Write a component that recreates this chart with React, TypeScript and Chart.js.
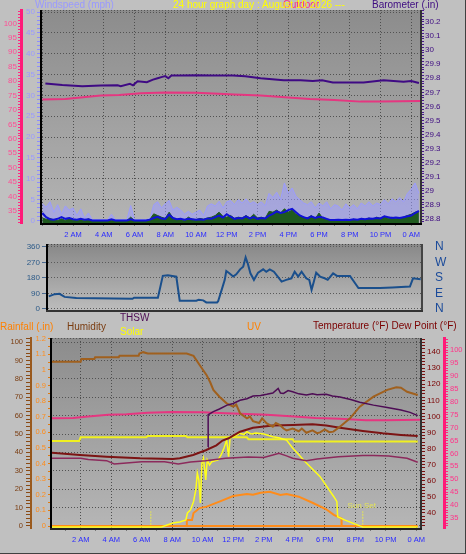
import React, { useEffect, useRef } from 'react';
import { Chart, registerables } from 'chart.js';

Chart.register(...registerables);

const FONT = "'Liberation Sans', Arial, Helvetica, sans-serif";

// ---------------- time axis ----------------
const hourLabels = ['2 AM', '4 AM', '6 AM', '8 AM', '10 AM', '12 PM', '2 PM', '4 PM', '6 PM', '8 PM', '10 PM', '0 AM'];
const labelEvery = 2;

// ---------------- top panel ----------------
const windStepHours = 0.25;
const windGust = [
  4.0, 3.2, 4.5, 2.0, 3.8,
  1.5, 3.5, 2.5, 3.0,
  1.2, 2.8, 0.5, 1.8,
  0.2, 0.2, 0.2, 0.2,
  0.2, 1.5, 0.2, 0.2,
  0.2, 0.2, 3.6, 0.2,
  0.2, 0.2, 0.2, 0.5,
  3.8, 4.5, 3.0, 4.0,
  4.8, 2.5, 3.2, 2.5,
  1.5, 2.2, 1.5, 2.0,
  2.5, 1.2, 3.5, 4.0,
  3.5, 4.6, 3.0, 4.5,
  4.8, 3.8, 5.0, 4.2,
  5.2, 4.0, 4.5, 3.8,
  4.5, 3.5, 6.5, 5.5,
  6.8, 5.0, 9.0, 6.5,
  7.8, 5.8, 5.0, 4.2,
  3.8, 4.5, 3.0, 4.2,
  3.5, 4.5, 2.8, 3.8,
  3.5, 2.5, 4.0, 3.0,
  3.8, 2.8, 4.2, 3.5,
  4.5, 3.5, 4.2, 3.8,
  5.0, 4.0, 5.2, 4.5,
  5.5, 4.5, 6.5, 7.5,
  9.0, 6.5,
];
const windAvg = [
  1.8, 0.8, 0.3, 0.2, 0.4,
  0.8, 0.4, 0.6, 0.3,
  0.2, 0.4, 0.2, 0.3,
  0, 0, 0, 0,
  0, 0.3, 0, 0,
  0, 0, 0.3, 0,
  0, 0, 0, 0.2,
  0.6, 0.9, 0.5, 0.4,
  1.4, 0.6, 0.3, 0.4,
  0.2, 0.4, 0.3, 0.2,
  0.3, 0.2, 0.5, 0.4,
  0.8, 1.2, 0.7, 1.5,
  0.9, 0.4, 0.6, 0.5,
  1.0, 0.5, 0.8, 0.4,
  0.6, 0.5, 1.2, 1.6,
  2.2, 1.8, 2.0, 2.5,
  2.8, 2.0, 1.2, 0.8,
  0.5, 1.0, 0.6, 0.9,
  0.7, 0.4, 0.1, 0.1,
  0.2, 0.1, 0.2, 0.1,
  0.3, 0.2, 0.4, 0.3,
  0.5, 0.4, 0.6, 0.5,
  1.0, 0.8, 0.6, 0.7,
  0.6, 0.8, 1.0, 1.2,
  1.8, 2.3,
];
const windSpeed = [
  0.6, 0.3, 0.5, 0.1, 0.0,
  0.4, 0.0, 0.6, 0.0,
  0.0, 0.2, 0.0, 0.4,
  0, 0, 0, 0,
  0, 0, 0, 0,
  0, 0, 0.8, 0,
  0, 0, 0, 0.3,
  1.6, 1.2, 0.8, 0.5,
  2.0, 0.6, 0.3, 0.2,
  0, 0.8, 0.3, 0.2,
  0.5, 0.3, 0.6, 0.8,
  1.2, 2.0, 1.0, 0.8,
  1.2, 0.5, 0.8, 0.6,
  1.2, 0.6, 1.5, 0.6,
  0.8, 0.5, 2.2, 2.0,
  2.5, 1.8, 2.8, 2.0,
  2.5, 1.5, 1.2, 0.8,
  0.6, 1.2, 0.4, 1.8,
  0.5, 0.3, 0.2, 0.1,
  0, 0, 0.2, 0,
  0.3, 0, 0.5, 0.2,
  0.6, 0.3, 0.8, 0.5,
  1.0, 0.5, 0.8, 0.4,
  0.6, 0.8, 1.2, 1.5,
  2.0, 2.2,
];
const baroSeries: [number, number][] = [
  [0.2, 29.762], [1.3, 29.752], [2.6, 29.744], [3.8, 29.748], [4.9, 29.75], [5.1, 29.744],
  [5.7, 29.76], [5.9, 29.75], [6.2, 29.778], [6.8, 29.772], [7.2, 29.79], [7.5, 29.8],
  [7.8, 29.81], [8.0, 29.815], [8.2, 29.8], [8.4, 29.82], [9.0, 29.82], [10.0, 29.822],
  [11.0, 29.82], [12.4, 29.82], [13.2, 29.815], [14.2, 29.8], [15.7, 29.786], [16.8, 29.786],
  [17.6, 29.78], [18.2, 29.785], [18.9, 29.77], [20.9, 29.77], [22.2, 29.786], [23.5, 29.776],
  [24.0, 29.78], [24.5, 29.767],
];
const dewSeries: [number, number][] = [
  [0.0, 73.6], [1.5, 73.8], [2.5, 74.3], [3.8, 75.0], [5.0, 75.2], [6.4, 75.8], [8.0, 76.1],
  [10.0, 76.0], [11.5, 75.6], [12.5, 75.4], [14.2, 75.0], [16.0, 74.3], [17.4, 73.8],
  [19.0, 73.5], [20.7, 72.9], [22.0, 72.9], [24.6, 73.1],
];

// ---------------- middle panel (wind direction) ----------------
const dirSeries: [number, number][] = [
  [0.45, 73], [0.83, 86], [1.15, 88], [1.48, 70], [2.24, 63], [5.9, 59], [6.0, 65], [7.55, 65],
  [7.87, 192], [8.2, 195], [8.75, 187], [8.97, 48], [10.05, 48], [10.2, 53], [10.5, 50],
  [10.7, 38], [11.4, 38], [11.47, 45], [11.7, 111], [11.9, 169], [12.0, 220], [12.2, 207],
  [12.45, 188], [12.65, 201], [12.9, 230], [13.1, 245], [13.26, 299], [13.4, 264], [13.57, 207],
  [13.8, 169], [14.07, 211], [14.4, 230], [14.6, 216], [14.83, 230], [15.1, 216], [15.35, 188],
  [15.6, 159], [15.9, 169], [16.24, 178], [16.45, 216], [16.68, 188], [16.9, 216], [17.2, 178],
  [17.4, 169], [17.55, 111], [17.7, 159], [17.85, 211], [18.1, 188], [18.4, 178], [18.6, 169],
  [18.95, 207], [19.2, 192], [20.05, 192], [20.6, 121], [22.0, 121], [22.8, 125], [23.95, 130],
  [24.15, 178], [24.65, 172],
];
const compassLabels: Record<number, string> = { 0: 'N', 90: 'E', 180: 'S', 270: 'W', 360: 'N' };

// ---------------- bottom panel ----------------
const humiditySeries: [number, number][] = [
  [0.1, 89.3], [2.0, 89.3], [2.05, 90.8], [2.9, 90.8], [2.95, 91.8], [4.5, 91.8], [4.55, 92.5],
  [5.8, 92.5], [5.85, 93.8], [6.1, 94.5], [6.4, 93.8], [8.95, 93.8], [9.4, 92.5], [9.8, 87.5],
  [10.26, 82], [10.5, 78], [10.7, 74], [11.1, 70.3], [11.57, 66.7], [12.0, 64.9], [12.2, 66],
  [12.45, 61.3], [12.9, 58.5], [13.1, 59.5], [13.3, 57], [13.7, 56], [13.9, 58.5], [14.2, 55.8],
  [14.6, 54], [14.8, 56], [15.07, 54.9], [15.3, 53], [15.5, 52], [15.9, 53], [16.3, 51.5],
  [16.5, 53], [16.8, 50.7], [17.2, 52], [17.5, 50.5], [17.7, 50.9], [18.0, 52.5], [18.3, 51],
  [18.57, 51.3], [19.0, 54], [19.66, 58.5], [20.3, 64.9], [21.2, 70.3], [22.1, 74], [22.7, 75.4],
  [23.0, 75.2], [23.4, 73], [24.1, 71.2],
];
const thswSeries: [number, number][] = [
  [10.35, 81], [10.36, 101], [10.7, 103], [11.1, 104.6], [11.6, 107], [12.0, 108], [12.45, 110],
  [12.9, 111], [13.3, 112.7], [13.8, 113], [14.2, 113.7], [14.6, 114.5], [14.95, 117.4],
  [15.1, 114.5], [15.3, 114.3], [15.6, 116], [15.9, 115.3], [16.3, 114], [16.8, 113.3],
  [17.2, 114], [17.5, 113.5], [18.1, 113.7], [18.5, 112.7], [19.0, 112], [19.7, 110.5],
  [20.3, 108.8], [21.2, 107], [22.1, 105.5], [23.0, 104], [23.6, 102.5], [24.1, 100.5],
];
const temperatureSeries: [number, number][] = [
  [0.1, 77.4], [1.95, 76], [3.7, 75], [5.9, 74], [8.05, 73.5], [8.5, 74], [9.37, 76], [10.2, 79],
  [10.9, 82], [11.3, 85], [11.7, 86.4], [12.45, 90.5], [13.3, 93], [14.6, 94.3], [15.9, 94.7],
  [17.2, 95.1], [18.1, 94.3], [19.0, 93], [19.7, 92], [20.5, 91], [21.8, 89.5], [23.0, 88.5],
  [24.1, 87.8],
];
const heatSeries: [number, number][] = [
  [0.1, 74.0], [2.0, 74.0], [2.5, 73.2], [3.7, 72.5], [4.2, 70.4], [6.0, 71.9], [7.5, 71.9],
  [8.4, 70.4], [9.2, 71.7], [10.2, 72.5], [11.5, 74.0], [13.0, 74.8], [14.0, 74.5], [14.6, 76.0],
  [15.0, 77.1], [15.5, 75.5], [15.9, 74.0], [16.8, 72.5], [17.5, 73.5], [18.9, 75.0], [20.5, 75.7],
  [21.2, 75.7], [22.2, 75.4], [23.4, 74.0], [24.1, 71.5],
];
const insideSeries: [number, number][] = [
  [0.1, 84.7], [1.9, 84.7], [2.0, 87.0], [6.3, 87.0], [6.4, 87.8], [8.9, 87.8], [9.0, 87.0],
  [12.9, 87.0], [13.0, 85.8], [15.9, 85.8], [16.0, 84.4], [24.1, 84.4],
];
const solarSeries: [number, number][] = [
  [0.1, 0], [7.3, 0], [8.05, 38], [8.5, 48], [8.9, 67], [9.0, 133], [9.2, 162], [9.4, 241],
  [9.55, 352], [9.65, 514], [9.75, 447], [9.85, 228], [9.95, 609], [10.05, 657], [10.2, 447],
  [10.3, 638], [10.45, 590], [10.6, 622], [11.0, 638], [11.2, 685], [11.4, 752], [11.57, 828],
  [11.7, 669], [11.8, 857], [12.0, 860], [12.45, 892], [12.7, 880], [12.9, 907], [13.2, 885],
  [13.5, 895], [14.0, 885], [14.6, 860], [15.0, 850], [15.5, 828], [15.9, 752], [16.8, 609],
  [17.7, 479], [18.6, 288], [18.8, 241], [18.85, 98], [19.3, 67], [20.3, 10], [20.5, 0], [24.1, 0],
];
const uvSeries: [number, number][] = [
  [8.95, 0], [8.96, 0.38], [9.3, 0.38], [9.4, 0.83], [9.8, 1.15], [10.26, 1.24], [11.1, 1.56],
  [12.0, 1.92], [12.9, 2.05], [13.3, 2.0], [13.8, 2.13], [14.4, 2.2], [15.1, 1.99], [15.5, 2.05],
  [16.3, 1.88], [17.2, 1.49], [18.1, 1.07], [18.6, 0.71], [19.1, 0.49], [19.11, 0],
];
const rainSeries: [number, number][] = [[0.1, 0], [24.1, 0]];
const sunriseHour = 6.6;
const sunsetHour = 20.5;
const sunMarkTop = 8;
const sunMarkBase = -1;
const sunsetText = 'Sun Set';

// ---------------- helpers ----------------
const pts = (s: [number, number][]) => s.map(([x, y]) => ({ x, y }));
const windPts = (vals: number[]) => vals.map((y, i) => ({ x: i * windStepHours, y }));
const near = (v: number, m: number) => Math.abs(v / m - Math.round(v / m)) < 1e-6;

function yAx(o: any) {
  const major = o.major || (() => true);
  return {
    type: 'linear',
    axis: 'y',
    position: o.position || 'left',
    weight: o.weight || 0,
    display: o.display !== false,
    min: o.min,
    max: o.max,
    afterFit: (s: any) => {
      if (o.display === false) return;
      s.width = o.width;
      s.paddingTop = 0;
      s.paddingBottom = 0;
    },
    ticks: {
      stepSize: o.step,
      autoSkip: false,
      includeBounds: false,
      padding: o.pad ?? 2,
      color: o.color,
      font: { family: FONT, size: o.size || 8 },
      callback: (v: any) => (major(Number(v)) ? o.label(Number(v)) : ''),
    },
    grid: {
      drawOnChartArea: !!o.grid,
      drawTicks: (o.tickLength || 0) > 0,
      color: (c: any) => (o.grid && c.tick && major(c.tick.value) ? o.grid : 'rgba(0,0,0,0)'),
      tickColor: o.tickColor || 'rgba(0,0,0,0)',
      tickLength: o.tickLength || 0,
      lineWidth: 1,
    },
    border: {
      display: !!o.border,
      color: o.border ? o.border.color : 'rgba(0,0,0,0)',
      width: o.border ? o.border.width : 0,
      dash: [1, 2],
    },
  };
}

function xAx(min: number, max: number, height: number) {
  return {
    type: 'linear',
    position: 'bottom',
    min,
    max,
    afterFit: (s: any) => {
      s.height = height;
      s.paddingLeft = 0;
      s.paddingRight = 0;
    },
    ticks: {
      stepSize: 1,
      autoSkip: false,
      includeBounds: false,
      maxRotation: 0,
      minRotation: 0,
      padding: 4,
      color: '#2a2aff',
      font: { family: FONT, size: 7.5 },
      callback: (v: any) => {
        const n = Number(v);
        return n > 0 && n % labelEvery === 0 ? hourLabels[n / labelEvery - 1] || '' : '';
      },
    },
    grid: {
      drawOnChartArea: true,
      color: (c: any) => (c.tick && c.tick.value % labelEvery === 0 ? '#4e4e4e' : 'rgba(0,0,0,0)'),
      tickColor: '#777777',
      tickLength: 3,
    },
    border: { display: false, dash: [1, 2] },
  };
}

const bgPlugin = (top: string, bottom: string) => ({
  id: 'plotBg',
  beforeDraw(chart: any) {
    const { ctx, chartArea: a } = chart;
    const g = ctx.createLinearGradient(0, a.top, 0, a.bottom);
    g.addColorStop(0, top);
    g.addColorStop(1, bottom);
    ctx.save();
    ctx.fillStyle = g;
    ctx.fillRect(a.left, a.top, a.right - a.left, a.bottom - a.top);
    ctx.restore();
  },
});

const framePlugin = (edges: any) => ({
  id: 'plotFrame',
  afterDatasetsDraw(chart: any) {
    const { ctx, chartArea: a } = chart;
    const line = (x1: number, y1: number, x2: number, y2: number, c: string, w: number) => {
      ctx.strokeStyle = c;
      ctx.lineWidth = w;
      ctx.beginPath();
      ctx.moveTo(x1, y1);
      ctx.lineTo(x2, y2);
      ctx.stroke();
    };
    ctx.save();
    if (edges.top) {
      ctx.setLineDash([1, 2]);
      line(a.left, a.top + 0.5, a.right, a.top + 0.5, edges.top, 1);
      ctx.setLineDash([]);
    }
    if (edges.left) line(a.left - 1, a.top, a.left - 1, a.bottom + 2, edges.left, 2);
    if (edges.right) line(a.right + 1, a.top, a.right + 1, a.bottom + 2, edges.right, 2);
    if (edges.bottom) line(a.left - 2, a.bottom + 1, a.right + 2, a.bottom + 1, edges.bottom, 2);
    ctx.restore();
  },
});

const sunLabelPlugin = {
  id: 'sunLabel',
  afterDatasetsDraw(chart: any) {
    const { ctx } = chart;
    const x = chart.scales.x.getPixelForValue(sunsetHour);
    const y = chart.scales.hum.getPixelForValue(sunMarkTop);
    ctx.save();
    ctx.font = `8px ${FONT}`;
    ctx.fillStyle = '#e4e45a';
    ctx.textAlign = 'center';
    ctx.textBaseline = 'bottom';
    ctx.fillText(sunsetText, x - 1, y - 1);
    ctx.restore();
  },
};

const baseOptions = (padding: any) => ({
  responsive: false,
  animation: false,
  devicePixelRatio: 1,
  events: [],
  layout: { padding },
  elements: { point: { radius: 0 }, line: { tension: 0 } },
  plugins: { legend: { display: false }, tooltip: { enabled: false } },
});

const line = (data: any[], axis: string, color: string, width: number, extra: any = {}) => ({
  data,
  yAxisID: axis,
  borderColor: color,
  backgroundColor: color,
  borderWidth: width,
  pointRadius: 0,
  fill: false,
  ...extra,
});

function topConfig(): any {
  return {
    type: 'line',
    data: {
      datasets: [
        line(pts(baroSeries), 'baro', '#3f0a84', 2),
        line(pts(dewSeries), 'dewTop', '#e63680', 2),
        line(windPts(windAvg), 'wind', '#1010d8', 2),
        line(windPts(windSpeed), 'wind', '#1f5a1f', 1, { fill: 'start', backgroundColor: '#1f5a1f' }),
        line(windPts(windGust), 'wind', '#9c9cff', 1, { fill: 'start', backgroundColor: 'rgba(156,156,255,0.55)' }),
      ],
    },
    options: {
      ...baseOptions({ top: 10, left: 0, right: 0, bottom: 0 }),
      scales: {
        x: xAx(-0.02, 24.57, 27),
        wind: yAx({
          position: 'left', weight: 1, min: -0.6, max: 50.5, step: 1,
          major: (v: number) => near(v, 5), label: (v: number) => String(v),
          color: '#9a9aff', tickColor: '#8c8cff', width: 21, tickLength: 5, pad: 2, size: 8,
          grid: '#525252',
        }),
        dewTop: yAx({
          position: 'left', weight: 2, min: 30.84, max: 104.65, step: 1,
          major: (v: number) => near(v, 5), label: (v: number) => String(v),
          color: '#ff4d94', tickColor: '#ff2a80', width: 21, tickLength: 3, pad: 1, size: 8,
          border: { color: '#ff1a78', width: 3 },
        }),
        baro: yAx({
          position: 'right', weight: 1, min: 28.7716, max: 30.285, step: 0.02,
          major: (v: number) => near(v, 0.1), label: (v: number) => String(Math.round(v * 10) / 10),
          color: '#3d0a80', tickColor: '#4a1a90', width: 46, tickLength: 4, pad: 1, size: 8,
        }),
      },
    },
    plugins: [bgPlugin('#8c8c8c', '#b4b4b4'), framePlugin({ left: '#000000', right: '#333333', bottom: '#000000', top: '#555555' })],
  };
}

function midConfig(): any {
  return {
    type: 'line',
    data: { datasets: [line(pts(dirSeries), 'dir', '#1a4f8c', 2)] },
    options: {
      ...baseOptions({ top: 4, left: 0, right: 0, bottom: 4 }),
      scales: {
        x: { type: 'linear', display: false, min: 0.4, max: 24.67 },
        dir: yAx({
          position: 'left', weight: 1, min: -6, max: 377, step: 90,
          label: (v: number) => String(v),
          color: '#2c5a88', tickColor: '#4a6a90', width: 48, tickLength: 6, pad: 2, size: 8,
          grid: '#5a5a5a',
        }),
        compass: yAx({
          position: 'right', weight: 1, min: -6, max: 377, step: 90,
          label: (v: number) => compassLabels[v] || '',
          color: '#1a4a9a', width: 45, tickLength: 0, pad: 14, size: 12,
        }),
      },
    },
    plugins: [bgPlugin('#888888', '#bcbcbc'), framePlugin({ left: '#000000', right: '#444444', bottom: '#333333', top: '#444444' })],
  };
}

function botConfig(): any {
  return {
    type: 'line',
    data: {
      datasets: [
        line(pts(thswSeries), 'temp', '#4e0c55', 1.5),
        line(pts(humiditySeries), 'hum', '#a0601e', 2),
        line(pts(temperatureSeries), 'temp', '#7c1414', 2),
        line(pts(heatSeries), 'temp', '#8c2a5c', 1.5),
        line(pts(dewSeries), 'dewB', '#e63680', 2),
        line(pts(solarSeries), 'solar', '#ffff1a', 1.5),
        line(pts(insideSeries), 'temp', '#f0f020', 2),
        line(pts(uvSeries), 'uv', '#ff8c1a', 2),
        line(pts(rainSeries), 'rain', '#ff8c1a', 2),
        line([{ x: sunriseHour, y: sunMarkBase }, { x: sunriseHour, y: sunMarkTop }], 'hum', '#e8e850', 1, { borderDash: [2, 1] }),
        line([{ x: sunsetHour, y: sunMarkBase }, { x: sunsetHour, y: sunMarkTop }], 'hum', '#e8e850', 1, { borderDash: [2, 1] }),
      ],
    },
    options: {
      ...baseOptions({ top: 4, left: 0, right: 0, bottom: 0 }),
      scales: {
        x: xAx(0.12, 24.25, 26),
        rain: yAx({
          position: 'left', weight: 1, min: -0.0128, max: 1.205, step: 0.05,
          major: (v: number) => near(v, 0.1), label: (v: number) => String(Math.round(v * 10) / 10),
          color: '#ff8c1a', tickColor: '#e07a10', width: 21, tickLength: 4, pad: 2, size: 7.5,
        }),
        hum: yAx({
          position: 'left', weight: 2, min: -1.09, max: 102.2, step: 2,
          major: (v: number) => near(v, 10), label: (v: number) => String(v),
          color: '#7a3c10', tickColor: '#8a4a14', width: 31, tickLength: 5, pad: 3, size: 7.5,
          grid: '#525252', border: { color: '#9a5a1e', width: 2 },
        }),
        temp: yAx({
          position: 'right', weight: 1, min: 30.68, max: 148.7, step: 2,
          major: (v: number) => near(v, 10) && v >= 40, label: (v: number) => String(v),
          color: '#7a0000', tickColor: '#7a1010', width: 24, tickLength: 5, pad: 2, size: 8,
        }),
        dewB: yAx({
          position: 'right', weight: 2, min: 31.12, max: 104.77, step: 1,
          major: (v: number) => near(v, 5), label: (v: number) => String(v),
          color: '#ff3388', tickColor: '#ff2a80', width: 22, tickLength: 4, pad: 2, size: 7.5,
          border: { color: '#ff1a78', width: 3 },
        }),
        uv: { type: 'linear', axis: 'y', display: false, min: -0.128, max: 12.05 },
        solar: { type: 'linear', axis: 'y', display: false, min: -10, max: 1800 },
      },
    },
    plugins: [bgPlugin('#8c8c8c', '#b6b6b6'), framePlugin({ left: '#000000', right: '#303030', bottom: '#202020', top: '#555555' }), sunLabelPlugin],
  };
}

const txt = (x: number, y: number, color: string, s: string, size = 10) => (
  <div
    style={{
      position: 'absolute', left: x, top: y, color, fontFamily: FONT, fontSize: size,
      lineHeight: 1, whiteSpace: 'nowrap',
    }}
  >
    {s}
  </div>
);

export default function App() {
  const topRef = useRef<HTMLCanvasElement>(null);
  const midRef = useRef<HTMLCanvasElement>(null);
  const botRef = useRef<HTMLCanvasElement>(null);

  useEffect(() => {
    const charts = [
      new Chart(topRef.current as HTMLCanvasElement, topConfig()),
      new Chart(midRef.current as HTMLCanvasElement, midConfig()),
      new Chart(botRef.current as HTMLCanvasElement, botConfig()),
    ];
    return () => charts.forEach((c) => c.destroy());
  }, []);

  return (
    <div
      style={{
        position: 'absolute', left: 0, top: 0, width: 466, height: 554, background: '#c0c0c0',
        overflow: 'hidden', boxSizing: 'border-box', borderRight: '1px solid #404040', borderBottom: '1px solid #404040',
      }}
    >
      <canvas ref={topRef} width={466} height={250} style={{ position: 'absolute', left: 0, top: 0 }} />
      <canvas ref={midRef} width={466} height={74} style={{ position: 'absolute', left: 0, top: 240 }} />
      <canvas ref={botRef} width={466} height={220} style={{ position: 'absolute', left: 0, top: 334 }} />
      {txt(35, 0, '#9999ff', 'Windspeed (mph)')}
      {txt(283, 0, '#ff2a80', 'Outdoor')}
      {txt(173, 0, '#ffff00', '24 hour graph day : August 10 2026 ---')}
      {txt(372, 0, '#3d0a80', 'Barometer (.in)')}
      {txt(0, 321.5, '#ff8000', 'Rainfall (.in)')}
      {txt(67, 321.5, '#7a3c10', 'Humidity')}
      {txt(120, 312.5, '#4e0c55', 'THSW')}
      {txt(120, 326.5, '#ffff00', 'Solar')}
      {txt(247, 321.5, '#ff8000', 'UV')}
      {txt(313, 321, '#7a0000', 'Temperature (°F) Dew Point (°F)')}
    </div>
  );
}
